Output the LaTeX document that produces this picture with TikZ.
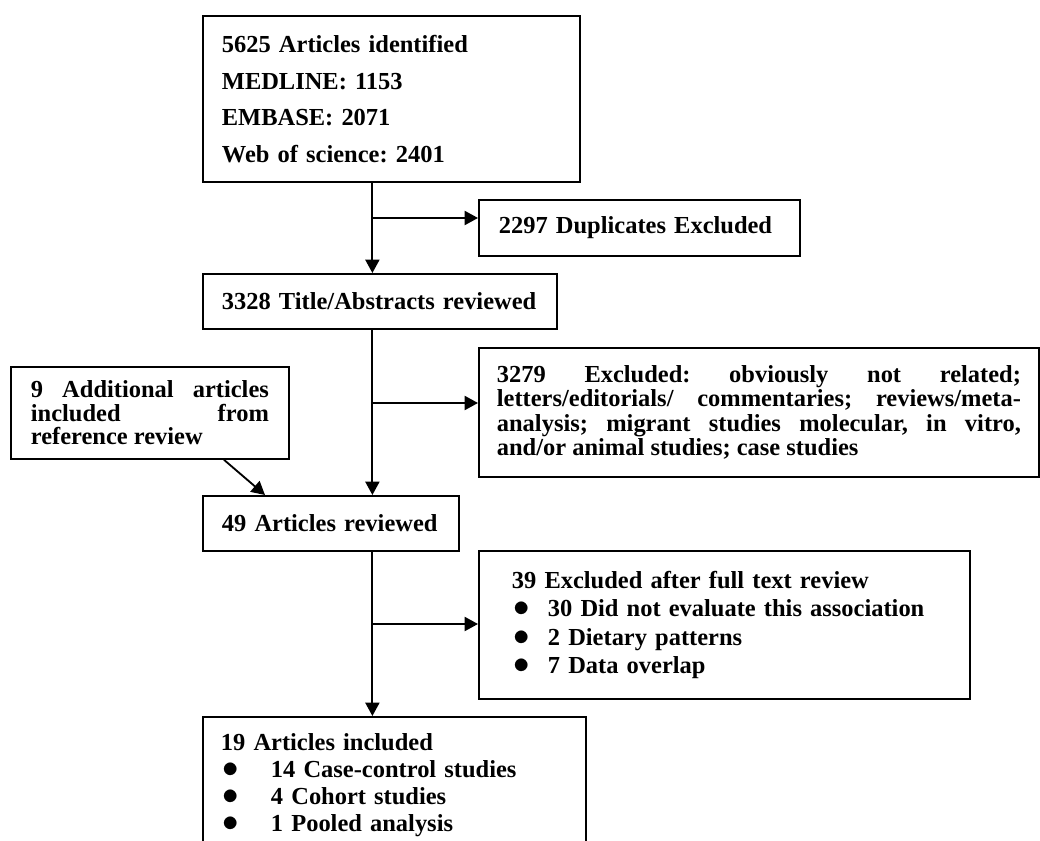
\documentclass[tikz,border=0pt]{standalone}
\usepackage{fontspec}
\setmainfont{Liberation Serif}
\usetikzlibrary{arrows.meta, positioning, calc}
\tolerance=10000
\hyphenpenalty=10000
\frenchspacing
\newcommand{\listdot}[1]{\makebox[#1][l]{\hspace{1pt}\scalebox{1.35}{$\bullet$}}}

\tikzset{
  box/.style={draw, line width=1.3pt, inner sep=0pt, anchor=north west, align=left,
    font=\fontsize{17.4pt}{16.9pt}\selectfont\bfseries},
  arr/.style={-{Triangle[length=9.5pt, width=10pt]}, line width=1.3pt},
}

\begin{document}
\begin{tikzpicture}
\useasboundingbox (0,0) rectangle (26,21);
\clip (0,0) rectangle (26,21);
\node[box, minimum width=9.425cm, minimum height=4.15cm, text width=8.475cm,
  font=\fontsize{17.4pt}{26pt}\selectfont\bfseries] (ident) at (5.05,20.625)
  {5625 Articles identified\\ MEDLINE: 1153\\ EMBASE: 2071\\ Web of science: 2401};
\node[box, minimum width=8.025cm, minimum height=1.4cm, text width=7.025cm] (dup) at (11.95,16.025)
  {2297 Duplicates Excluded};
\node[box, minimum width=8.85cm, minimum height=1.375cm, text width=7.9cm] (title) at (5.05,14.175)
  {3328 Title/Abstracts reviewed};
\node[box, minimum width=14cm, minimum height=3.225cm, text width=13.1cm, align=justify,
  font=\fontsize{17.4pt}{17.4pt}\selectfont\bfseries] (excl) at (11.95,12.325)
  {3279 Excluded: obviously not related;\linebreak letters/editorials/ commentaries; reviews/meta-\linebreak
   analysis; migrant studies molecular, in vitro,\linebreak and/or animal studies; case studies};
\node[box, minimum width=6.95cm, minimum height=2.3cm, text width=5.95cm, align=justify,
  font=\fontsize{17.4pt}{16.8pt}\selectfont\bfseries] (extra) at (0.25,11.85)
  {9 Additional articles\linebreak included from\linebreak reference review};
\node[box, minimum width=6.4cm, minimum height=1.375cm, text width=5.45cm] (rev) at (5.05,8.625)
  {49 Articles reviewed};
\node[box, minimum width=12.275cm, minimum height=3.7cm, text width=10.625cm,
  font=\fontsize{17.4pt}{20.1pt}\selectfont\bfseries] (full) at (11.95,7.25)
  {39 Excluded after full text review\\
   \listdot{25.6pt}30 Did not evaluate this association\\
   \listdot{25.6pt}2 Dietary patterns\\
   \listdot{25.6pt}7 Data overlap};
\node[box, minimum width=9.575cm, text width=8.675cm, inner ysep=0.425cm,
  font=\fontsize{17.4pt}{19pt}\selectfont\bfseries] (incl) at (5.05,3.1)
  {19 Articles included\\
   \listdot{35.6pt}14 Case-control studies\\
   \listdot{35.6pt}4 Cohort studies\\
   \listdot{35.6pt}1 Pooled analysis};

\coordinate (spine) at (9.31,0);
\draw[arr] (ident.south -| spine) -- (title.north -| spine);
\coordinate (j1) at (9.31,15.55);
\draw[arr] (j1) -- (j1 -| dup.west);
\draw[arr] (title.south -| spine) -- (rev.north -| spine);
\coordinate (j2) at (9.31,10.925);
\draw[arr] (j2) -- (j2 -| excl.west);
\draw[arr] ($(extra.south west)+(5.35,0)$) -- ($(rev.north west)+(1.575,0)$);
\draw[arr] (rev.south -| spine) -- (incl.north -| spine);
\coordinate (j3) at (9.31,5.4);
\draw[arr] (j3) -- (j3 -| full.west);
\end{tikzpicture}
\end{document}
